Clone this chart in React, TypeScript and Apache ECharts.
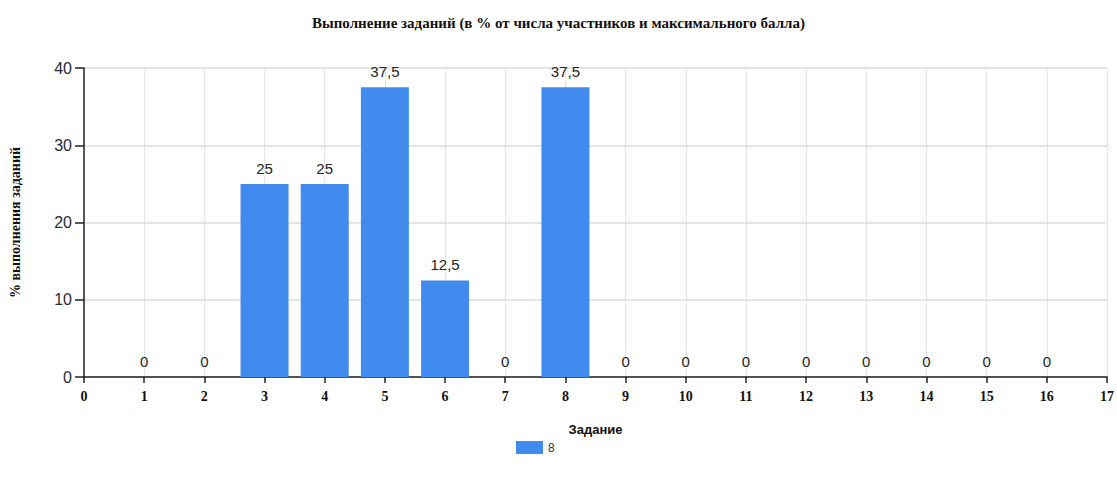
import React, { useEffect, useRef } from "react";
import * as echarts from "echarts";

const taskNumbers = [1, 2, 3, 4, 5, 6, 7, 8, 9, 10, 11, 12, 13, 14, 15, 16];
const completion = [0, 0, 25, 25, 37.5, 12.5, 0, 37.5, 0, 0, 0, 0, 0, 0, 0, 0];
const seriesName = "8";
const titleText = "Выполнение заданий (в % от числа участников и максимального балла)";
const xAxisName = "Задание";
const yAxisName = "% выполнения заданий";

export default function App() {
  const ref = useRef<HTMLDivElement>(null);
  useEffect(() => {
    if (!ref.current) return;
    const chart = echarts.init(ref.current, null, { renderer: "svg" });
    chart.setOption({
      animation: false,
      backgroundColor: "#ffffff",
      title: {
        text: titleText,
        left: "center",
        top: 10,
        textStyle: {
          fontFamily: "Liberation Serif",
          fontWeight: "bold",
          fontSize: 15,
          color: "#111",
        },
      },
      legend: {
        bottom: 23,
        left: 511,
        itemWidth: 27,
        itemHeight: 13,
        itemGap: 10,
        icon: "rect",
        textStyle: { fontFamily: "Liberation Sans", fontSize: 12, color: "#333" },
        data: [seriesName],
      },
      grid: { left: 81, right: 7, top: 68, bottom: 105, containLabel: false },
      xAxis: {
        type: "value",
        min: 0,
        max: 17,
        interval: 1,
        name: xAxisName,
        nameLocation: "middle",
        nameGap: 46,
        nameTextStyle: {
          fontFamily: "Liberation Sans",
          fontWeight: "bold",
          fontSize: 13,
          color: "#111",
        },
        axisLine: { show: true, onZero: false, lineStyle: { color: "#222", width: 1.5 } },
        axisTick: { show: true, length: 6, lineStyle: { color: "#222", width: 1.5 } },
        axisLabel: {
          margin: 12,
          fontFamily: "Liberation Serif",
          fontWeight: "bold",
          fontSize: 14,
          color: "#111",
        },
        splitLine: { show: true, lineStyle: { color: "#d0d0d0", type: "dotted", width: 1 } },
      },
      yAxis: {
        type: "value",
        min: 0,
        max: 40,
        interval: 10,
        name: yAxisName,
        nameLocation: "middle",
        nameRotate: 90,
        nameGap: 62,
        nameTextStyle: {
          fontFamily: "Liberation Serif",
          fontWeight: "bold",
          fontSize: 14,
          color: "#111",
        },
        axisLine: { show: true, lineStyle: { color: "#222", width: 1.5 } },
        axisTick: { show: true, length: 9, lineStyle: { color: "#222", width: 1.5 } },
        axisLabel: {
          margin: 12,
          fontFamily: "Liberation Sans",
          fontSize: 16,
          color: "#2a2a3a",
        },
        splitLine: { show: true, lineStyle: { color: "#dcdcdc", width: 1.5 } },
      },
      series: [
        {
          name: seriesName,
          type: "bar",
          barWidth: 48,
          itemStyle: { color: "#418BEE" },
          data: taskNumbers.map((t, i) => [t, completion[i]]),
          label: {
            show: true,
            position: "top",
            distance: 8,
            fontFamily: "Liberation Sans",
            fontSize: 15,
            color: "#222",
            formatter: (p: any) => String(p.value[1]).replace(".", ","),
          },
        },
      ],
    });
    return () => chart.dispose();
  }, []);
  return (
    <div
      ref={ref}
      style={{ position: "absolute", left: 0, top: 0, width: 1117, height: 482 }}
    />
  );
}
